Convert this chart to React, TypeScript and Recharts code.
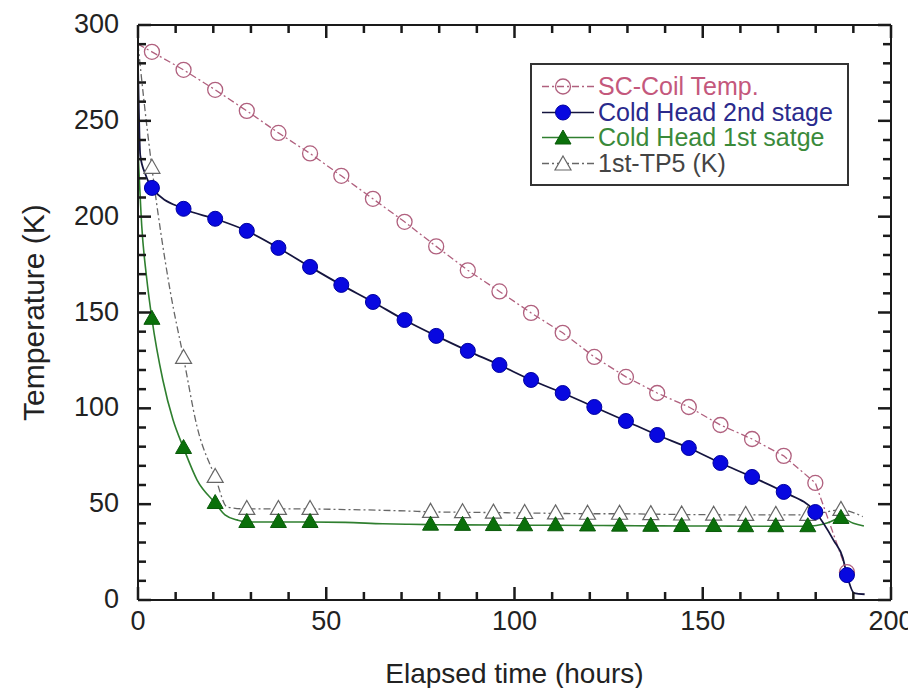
import { ComposedChart, Line, Scatter, XAxis, YAxis, Legend } from 'recharts';

const FONT = '"Liberation Sans", Arial, Helvetica, sans-serif';

// hours at which the coil / 2nd stage points were logged
const markerHours = [3.7, 12.1, 20.5, 28.9, 37.3, 45.7, 54.0, 62.4, 70.8, 79.2, 87.6, 96.0, 104.4, 112.8, 121.2, 129.6, 137.9, 146.3, 154.7, 163.1, 171.5, 179.9, 188.3];
const coilTemp = [286.0, 276.6, 266.2, 255.2, 243.7, 233.0, 221.3, 209.3, 197.3, 184.5, 172.0, 161.0, 149.8, 139.4, 126.8, 116.4, 108.0, 100.7, 91.3, 84.0, 75.2, 61.1, 14.5];
const stage2Temp = [215.0, 204.1, 198.9, 192.6, 183.7, 173.8, 164.4, 155.5, 146.1, 137.8, 130.0, 122.6, 114.8, 108.0, 100.7, 93.4, 86.1, 79.3, 71.5, 64.2, 56.4, 45.9, 13.0];

// 1st stage / TP5 points (gap between ~46 h and ~78 h)
const stage1Hours = [3.7, 12.1, 20.5, 28.9, 37.3, 45.7, 77.7, 86.2, 94.4, 102.7, 110.9, 119.4, 127.9, 136.2, 144.4, 152.9, 161.4, 169.4, 177.9, 186.7];
const stage1Temp = [146.7, 79.3, 50.6, 40.7, 40.7, 40.7, 39.3, 39.2, 39.1, 39.0, 39.0, 38.9, 38.8, 38.7, 38.6, 38.6, 38.5, 38.5, 38.5, 42.8];
const tp5Temp = [225.5, 126.3, 64.2, 47.5, 47.5, 47.5, 46.0, 45.8, 45.6, 45.4, 45.2, 45.0, 45.0, 44.8, 44.6, 44.5, 44.4, 44.4, 44.4, 47.0];

// extra samples of the continuous traces (between markers)
const coilTraceHours = [0];
const coilTraceTemp = [290];
const stage2TraceHours = [0, 0.6, 2.0, 184.8, 187.2, 190.2, 193.0];
const stage2TraceTemp = [280, 232, 222, 31, 22, 3.6, 3.0];
const stage1TraceHours = [0, 1.0, 2.3, 6.6, 9.3, 15.7, 23.1, 26.3, 55, 65, 72, 183, 190, 192.8];
const stage1TraceTemp = [235, 195, 168, 114.8, 94, 62.6, 44.4, 41.8, 40.5, 39.8, 39.5, 40.2, 40.0, 38.6];
const tp5TraceHours = [0, 1.5, 8.5, 15.7, 23.7, 55, 65, 72, 192.5];
const tp5TraceTemp = [290, 262, 161.8, 90.3, 48.5, 47.2, 46.8, 46.4, 43.5];

const xTicks = [0, 10, 20, 30, 40, 50, 60, 70, 80, 90, 100, 110, 120, 130, 140, 150, 160, 170, 180, 190, 200];
const xMajor = [0, 50, 100, 150, 200];
const yTicks = [0, 10, 20, 30, 40, 50, 60, 70, 80, 90, 100, 110, 120, 130, 140, 150, 160, 170, 180, 190, 200, 210, 220, 230, 240, 250, 260, 270, 280, 290, 300];
const yMajor = [0, 50, 100, 150, 200, 250, 300];

type Pt = { t: number; k: number };
const zip = (hours: number[], temps: number[]): Pt[] => hours.map((t, i) => ({ t, k: temps[i] }));
const trace = (...parts: Pt[][]) => parts.flat().sort((a, b) => a.t - b.t);

const coilPts = zip(markerHours, coilTemp);
const stage2Pts = zip(markerHours, stage2Temp);
const stage1Pts = zip(stage1Hours, stage1Temp);
const tp5Pts = zip(stage1Hours, tp5Temp);

const coilLine = trace(coilPts, zip(coilTraceHours, coilTraceTemp));
const stage2Line = trace(stage2Pts, zip(stage2TraceHours, stage2TraceTemp));
const stage1Line = trace(stage1Pts, zip(stage1TraceHours, stage1TraceTemp));
const tp5Line = trace(tp5Pts, zip(tp5TraceHours, tp5TraceTemp));

const AXIS = '#1a1a1a';
const TICK_W = 2.5;
const MINOR = 8;
const MAJOR = 13;
const COIL = '#b0607e';
const BLUE_LINE = '#15153f';
const GREEN_LINE = '#2f7f2f';
const GRAY = '#666666';
const DASHDOT = '7 3 2 3';

const triPath = (cx: number, cy: number) => `M${cx},${cy - 8.5}L${cx + 8},${cy + 5.5}L${cx - 8},${cy + 5.5}Z`;

const coilMarker = (p: any) => <circle cx={p.cx} cy={p.cy} r={7.5} fill="none" stroke={COIL} strokeWidth={1.3} />;
const blueMarker = (p: any) => <circle cx={p.cx} cy={p.cy} r={7.5} fill="#0808e0" stroke="#0000a0" strokeWidth={1} />;
const greenMarker = (p: any) => <path d={triPath(p.cx, p.cy)} fill="#0a700a" stroke="#0a5a0a" strokeWidth={1} />;
const tp5Marker = (p: any) => <path d={triPath(p.cx, p.cy)} fill="#ffffff" stroke={GRAY} strokeWidth={1.2} />;

// tick props x/y sit on the axis line (tickSize 0, tickMargin 0); marks point inward, drawn as filled rects
const BottomTick = (props: any) => {
  const { x, y, payload } = props;
  const major = xMajor.includes(payload.value);
  const len = major ? MAJOR : MINOR;
  return (
    <g>
      <rect x={x - TICK_W / 2} y={y - len} width={TICK_W} height={len} fill={AXIS} />
      {major && (
        <text x={x} y={y + 30} textAnchor="middle" fontSize={27} fontFamily={FONT} fill="#222">
          {payload.value}
        </text>
      )}
    </g>
  );
};
const TopTick = (props: any) => {
  const { x, y, payload } = props;
  const len = xMajor.includes(payload.value) ? MAJOR : MINOR;
  return (
    <g>
      <rect x={x - TICK_W / 2} y={y} width={TICK_W} height={len} fill={AXIS} />
    </g>
  );
};
const LeftTick = (props: any) => {
  const { x, y, payload } = props;
  const major = yMajor.includes(payload.value);
  const len = major ? MAJOR : MINOR;
  return (
    <g>
      <rect x={x} y={y - TICK_W / 2} width={len} height={TICK_W} fill={AXIS} />
      {major && (
        <text x={x - 19} y={y + 8} textAnchor="end" fontSize={27} fontFamily={FONT} fill="#222">
          {payload.value}
        </text>
      )}
    </g>
  );
};
const RightTick = (props: any) => {
  const { x, y, payload } = props;
  const len = yMajor.includes(payload.value) ? MAJOR : MINOR;
  return (
    <g>
      <rect x={x - len} y={y - TICK_W / 2} width={len} height={TICK_W} fill={AXIS} />
    </g>
  );
};

const legendRows = [
  { name: 'SC-Coil Temp.', text: '#c4587c', line: COIL, dash: DASHDOT, marker: 'open-circle' },
  { name: 'Cold Head 2nd stage', text: '#2a2a8c', line: BLUE_LINE, dash: undefined, marker: 'circle' },
  { name: 'Cold Head 1st satge', text: '#3a8a3a', line: GREEN_LINE, dash: undefined, marker: 'triangle' },
  { name: '1st-TP5 (K)', text: '#444444', line: GRAY, dash: DASHDOT, marker: 'open-triangle' },
];

const LegendBox = () => (
  <div
    style={{
      boxSizing: 'border-box',
      width: 319,
      height: 123,
      border: '2px solid #333',
      background: '#fff',
      padding: '9px 0 0 8px',
      fontFamily: FONT,
    }}
  >
    {legendRows.map((r) => (
      <div key={r.name} style={{ display: 'flex', alignItems: 'center', height: 25.5 }}>
        <svg width={58} height={25} style={{ flex: 'none' }}>
          <line x1={2} x2={54} y1={12.5} y2={12.5} stroke={r.line} strokeWidth={1.4} strokeDasharray={r.dash} />
          {r.marker === 'open-circle' && coilMarker({ cx: 23, cy: 12.5 })}
          {r.marker === 'circle' && blueMarker({ cx: 23, cy: 12.5 })}
          {r.marker === 'triangle' && greenMarker({ cx: 23, cy: 13.5 })}
          {r.marker === 'open-triangle' && tp5Marker({ cx: 23, cy: 13.5 })}
        </svg>
        <span style={{ fontSize: 25, lineHeight: '25px', color: r.text, whiteSpace: 'nowrap' }}>{r.name}</span>
      </div>
    ))}
  </div>
);

const axisLineStyle = { stroke: AXIS, strokeWidth: 2 };

export default function App() {
  return (
    <ComposedChart width={908} height={680} margin={{ top: 16, right: 24, bottom: 0, left: 0 }} style={{ fontFamily: FONT }}>
      <XAxis
        dataKey="t"
        type="number"
        domain={[0, 200]}
        ticks={xTicks}
        interval={0}
        height={88}
        tickSize={0}
        tickMargin={0}
        tickLine={false}
        tick={BottomTick}
        axisLine={axisLineStyle}
        label={{ value: 'Elapsed time (hours)', position: 'insideBottom', offset: 5, fontSize: 28, fill: '#222', fontFamily: FONT }}
      />
      <XAxis
        xAxisId="top"
        orientation="top"
        dataKey="t"
        type="number"
        domain={[0, 200]}
        allowDataOverflow
        ticks={xTicks}
        interval={0}
        height={1}
        tickSize={0}
        tickMargin={0}
        tickLine={false}
        tick={TopTick}
        axisLine={axisLineStyle}
      />
      <YAxis
        type="number"
        domain={[0, 300]}
        ticks={yTicks}
        interval={0}
        width={130}
        tickSize={0}
        tickMargin={0}
        tickLine={false}
        tick={LeftTick}
        axisLine={axisLineStyle}
        label={{
          value: 'Temperature (K)',
          angle: -90,
          position: 'insideLeft',
          offset: 25,
          fontSize: 30,
          fill: '#222',
          fontFamily: FONT,
          style: { textAnchor: 'middle' },
        }}
      />
      <YAxis
        yAxisId="right"
        orientation="right"
        type="number"
        domain={[0, 300]}
        allowDataOverflow
        ticks={yTicks}
        interval={0}
        width={1}
        tickSize={0}
        tickMargin={0}
        tickLine={false}
        tick={RightTick}
        axisLine={axisLineStyle}
      />

      <Line data={coilLine} dataKey="k" type="linear" stroke={COIL} strokeWidth={1.3} strokeDasharray={DASHDOT} dot={false} activeDot={false} isAnimationActive={false} />
      <Line data={tp5Line} dataKey="k" type="monotone" stroke={GRAY} strokeWidth={1.3} strokeDasharray={DASHDOT} dot={false} activeDot={false} isAnimationActive={false} />
      <Line data={stage1Line} dataKey="k" type="monotone" stroke={GREEN_LINE} strokeWidth={1.6} dot={false} activeDot={false} isAnimationActive={false} />
      <Line data={stage2Line} dataKey="k" type="monotone" stroke={BLUE_LINE} strokeWidth={1.8} dot={false} activeDot={false} isAnimationActive={false} />

      <Scatter data={coilPts} dataKey="k" shape={coilMarker} isAnimationActive={false} />
      <Scatter data={tp5Pts} dataKey="k" shape={tp5Marker} isAnimationActive={false} />
      <Scatter data={stage1Pts} dataKey="k" shape={greenMarker} isAnimationActive={false} />
      <Scatter data={stage2Pts} dataKey="k" shape={blueMarker} isAnimationActive={false} />

      <Legend
        layout="vertical"
        align="center"
        verticalAlign="middle"
        content={LegendBox}
        wrapperStyle={{ left: 522, top: 55, width: 319, height: 123 }}
      />
    </ComposedChart>
  );
}
